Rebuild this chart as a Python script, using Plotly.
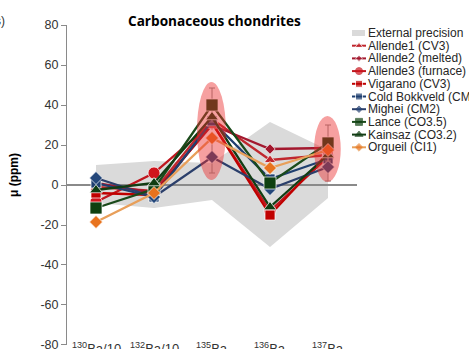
import plotly.graph_objects as go

W, H = 469, 349

categories = ["<sup>130</sup>Ba/10", "<sup>132</sup>Ba/10", "<sup>135</sup>Ba", "<sup>136</sup>Ba", "<sup>137</sup>Ba"]
y_ticks = [-80, -60, -40, -20, 0, 20, 40, 60, 80]

precision_upper = [10, 12, 11, 31.5, 17.5]
precision_lower = [-9, -11.5, -7.5, -31, -6.5]

series_names = ["Allende1 (CV3)", "Allende2 (melted)", "Allende3 (furnace)", "Vigarano (CV3)",
                "Cold Bokkveld (CM)", "Mighei (CM2)", "Lance (CO3.5)", "Kainsaz (CO3.2)", "Orgueil (CI1)"]

allende1 = [-1, -3, 33, 12.5, 15]
allende2 = [1, -4, 30, 18, 18.5]
allende3 = [-8.5, 6, 31, -13, 14]
vigarano = [-4, -5, 31, -15, 16]
cold_bokkveld = [1, -6, 32, 3, 13]
mighei = [3.5, -6, 14, -2, 9]
lance = [-11.5, -2, 40, 1, 21]
kainsaz = [-2.5, 1, 34, -11, 15]
orgueil = [-18.5, -4, 23.5, 8.5, 17.5]

lance_err = [0, 0, 8.5, 0, 9]
mighei_err = [0, 0, 8, 0, 7]

series_values = [allende1, allende2, allende3, vigarano, cold_bokkveld, mighei, lance, kainsaz, orgueil]
line_colors = ["#C0262D", "#A3182E", "#C0161E", "#C00000", "#1F3F70", "#2B3F6B", "#1A4A1A", "#123D14", "#E89F5A"]
marker_colors = ["#C0262D", "#A3182E", "#D0141C", "#C00000", "#1F3F70", "#24477A", "#0E4010", "#0F3D12", "#E8731E"]
symbols = ["triangle-up", "diamond", "circle", "square", "square", "diamond", "square", "triangle-up", "diamond"]
sizes = [10, 8, 12, 10, 10, 10, 12, 11, 10]
legend_sizes = [7, 5, 7, 7, 7, 5, 7, 7, 6]
errors = [None, None, None, None, None, mighei_err, lance_err, None, None]

# layout geometry (pixels)
pl, pr, pt, pb = 67, 357, 25, 345

fig = go.Figure()
xs = list(range(len(categories)))

# external precision band as a path shape built from the arrays
path = "M " + " L ".join(f"{x},{y}" for x, y in zip(xs, precision_upper))
path += " L " + " L ".join(f"{x},{y}" for x, y in zip(xs[::-1], precision_lower[::-1])) + " Z"
fig.add_shape(type="path", path=path, xref="x", yref="y", fillcolor="#DADADA",
              line=dict(width=0), layer="below")

for name, vals, lc, mc, sym, sz, err in zip(series_names, series_values, line_colors, marker_colors,
                                             symbols, sizes, errors):
    tr = dict(x=xs, y=vals, mode="lines+markers", name=name, showlegend=False,
              line=dict(color=lc, width=2.3),
              marker=dict(symbol=sym, size=sz, color=mc, line=dict(color="rgba(255,255,255,0.7)", width=1)),
              cliponaxis=False)
    if err is not None:
        tr["error_y"] = dict(type="data", array=err, visible=True, color="#8c8c8c", thickness=1, width=3)
    fig.add_trace(go.Scatter(**tr))

# highlight ellipses (over the data, translucent)
fig.add_shape(type="circle", xref="x", yref="y", x0=1.74, x1=2.24, y0=2.5, y1=51.5,
              fillcolor="rgba(235,45,45,0.45)", line=dict(width=0), layer="above")
fig.add_shape(type="circle", xref="x", yref="y", x0=3.76, x1=4.22, y0=1.5, y1=34.5,
              fillcolor="rgba(235,45,45,0.45)", line=dict(width=0), layer="above")

# custom legend (pixel-space overlay axes)
row0, step = 33, 12.7
legend_font = dict(family="Liberation Sans", size=12, color="#262626")
fig.add_shape(type="rect", xref="x2", yref="y2", x0=352, x1=365, y0=row0 - 3, y1=row0 + 3,
              fillcolor="#DADADA", line=dict(width=0))
annots = []
annots.append(dict(x=366 / W, y=1 - row0 / H, xref="paper", yref="paper", text="External precision",
                   showarrow=False, xanchor="left", yanchor="middle", font=legend_font))
for i, (name, lc, mc, sym, ls) in enumerate(zip(series_names, line_colors, marker_colors, symbols, legend_sizes)):
    ry = row0 + (i + 1) * step
    fig.add_trace(go.Scatter(x=[352, 359, 366], y=[ry, ry, ry], xaxis="x2", yaxis="y2", mode="lines+markers",
                             showlegend=False, line=dict(color=lc, width=2),
                             marker=dict(symbol=sym, size=[0, ls, 0], color=mc), cliponaxis=False,
                             hoverinfo="skip"))
    annots.append(dict(x=366 / W, y=1 - ry / H, xref="paper", yref="paper", text=name,
                       showarrow=False, xanchor="left", yanchor="middle", font=legend_font))

# category labels
for i, c in enumerate(categories):
    annots.append(dict(x=i, y=1 - 348 / H, xref="x", yref="paper", text=c, showarrow=False,
                       xanchor="center", yanchor="middle",
                       font=dict(family="Liberation Sans", size=13, color="#333333")))

# title, y title, fragment
annots.append(dict(x=126 / W, y=1 - 21 / H, xref="paper", yref="paper", text="<b>Carbonaceous chondrites</b>",
                   showarrow=False, xanchor="left", yanchor="middle",
                   font=dict(family="Open Sans", size=13.6, color="#000000")))
annots.append(dict(x=14 / W, y=1 - 175 / H, xref="paper", yref="paper", text="<b>μ (ppm)</b>",
                   showarrow=False, textangle=-90, xanchor="center", yanchor="middle",
                   font=dict(family="Liberation Sans", size=12, color="#000000")))
annots.append(dict(x=7 / W, y=1 - 21 / H, xref="paper", yref="paper", text="s)",
                   showarrow=False, xanchor="right", yanchor="middle",
                   font=dict(family="Liberation Sans", size=12, color="#333333")))

fig.update_layout(
    width=W, height=H, margin=dict(l=0, r=0, t=0, b=0),
    paper_bgcolor="white", plot_bgcolor="rgba(0,0,0,0)",
    showlegend=False,
    xaxis=dict(domain=[pl / W, pr / W], range=[-0.5, 4.5], showticklabels=False, showgrid=False,
               zeroline=False, showline=False, ticks=""),
    yaxis=dict(domain=[1 - pb / H, 1 - pt / H], range=[-80.01, 80.01], tickmode="array",
               tickvals=y_ticks, ticktext=[str(v) for v in y_ticks], showgrid=False,
               zeroline=True, zerolinecolor="#8a8a8a", zerolinewidth=1.5, ticklabeloverflow="allow",
               showline=True, linecolor="#8a8a8a", linewidth=1, ticks="outside", ticklen=5,
               tickcolor="#8a8a8a", tickfont=dict(family="Liberation Sans", size=12.5, color="#333333"),
               automargin=False),
    xaxis2=dict(domain=[0, 1], range=[0, W], visible=False, anchor="y2"),
    yaxis2=dict(domain=[0, 1], range=[H, 0], visible=False, anchor="x2"),
    annotations=annots,
)

fig.write_html("out.html")
